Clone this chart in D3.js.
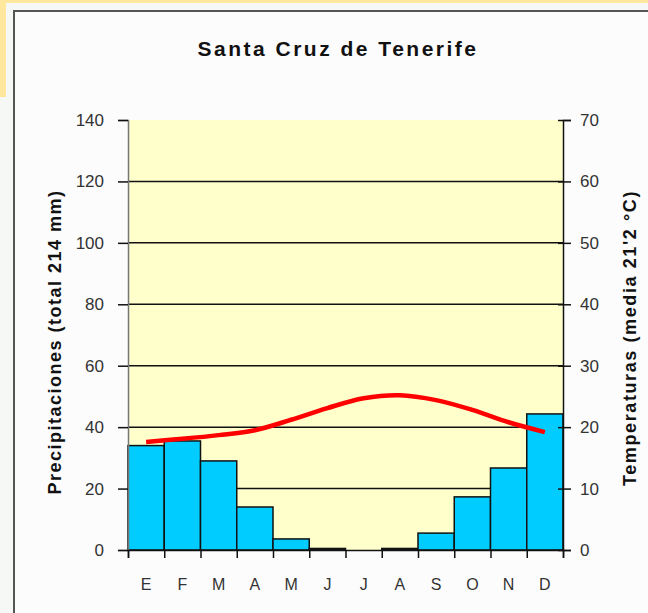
<!DOCTYPE html>
<html>
<head>
<meta charset="utf-8">
<title>Santa Cruz de Tenerife</title>
<script src="https://d3js.org/d3.v7.min.js"></script>
<style>
  body { margin: 0; background: #f6f8f6; }
  svg text { font-family: Arial, "Liberation Sans", sans-serif; }
</style>
</head>
<body>
<svg width="648" height="613"></svg>
<script>
// datos
const months = ["E", "F", "M", "A", "M", "J", "J", "A", "S", "O", "N", "D"];
const precip = [34, 35.5, 29, 14, 3.6, 0.5, 0, 0.5, 5.5, 17.3, 26.7, 44.3];
const temps = [17.6, 18.1, 18.7, 19.5, 21.2, 23.1, 24.7, 25.2, 24.4, 22.8, 20.8, 19.2];
const precipTicks = [0, 20, 40, 60, 80, 100, 120, 140];
const tempTicks = [0, 10, 20, 30, 40, 50, 60, 70];

const svg = d3.select("svg");
const plot = {left: 128, right: 563, top: 120, bottom: 550};

// marco exterior
svg.append("rect").attr("x", 0).attr("y", 0).attr("width", 648).attr("height", 3).attr("fill", "#ffe79e");
svg.append("rect").attr("x", 0).attr("y", 0).attr("width", 6).attr("height", 97).attr("fill", "#ffe79e");
svg.append("rect")
  .attr("x", 14).attr("y", 11).attr("width", 660).attr("height", 640)
  .attr("fill", "#fcfcfc").attr("stroke", "#555").attr("stroke-width", 2);

// escalas
const x = d3.scaleBand().domain(d3.range(12)).range([plot.left, plot.right]).padding(0);
const yP = d3.scaleLinear().domain([0, 140]).range([plot.bottom, plot.top]);
const yT = d3.scaleLinear().domain([0, 70]).range([plot.bottom, plot.top]);

// fondo del área
svg.append("rect")
  .attr("x", plot.left).attr("y", plot.top)
  .attr("width", plot.right - plot.left).attr("height", plot.bottom - plot.top)
  .attr("fill", "#ffffcc");

// líneas de cuadrícula
svg.append("g")
  .selectAll("line")
  .data(precipTicks.filter(d => d > 0 && d < 140))
  .join("line")
  .attr("x1", plot.left).attr("x2", plot.right)
  .attr("y1", d => yP(d)).attr("y2", d => yP(d))
  .attr("stroke", "#111").attr("stroke-width", 1.5);

// barras de precipitación
svg.append("g")
  .selectAll("rect")
  .data(precip)
  .join("rect")
  .attr("x", (d, i) => x(i))
  .attr("y", d => yP(d))
  .attr("width", x.bandwidth())
  .attr("height", d => plot.bottom - yP(d))
  .attr("fill", "#00ccff")
  .attr("stroke", "#111").attr("stroke-width", 1.5);

// línea de temperatura
const line = d3.line()
  .x((d, i) => x(i) + x.bandwidth() / 2)
  .y(d => yT(d))
  .curve(d3.curveCatmullRom);

svg.append("path")
  .datum(temps)
  .attr("d", line)
  .attr("fill", "none")
  .attr("stroke", "#ff0000")
  .attr("stroke-width", 4.5);

// ejes
const axisLeft = svg.append("g")
  .attr("transform", `translate(${plot.left},0)`)
  .call(d3.axisLeft(yP).tickValues(precipTicks).tickSize(10).tickPadding(14));

const axisRight = svg.append("g")
  .attr("transform", `translate(${plot.right},0)`)
  .call(d3.axisRight(yT).tickValues(tempTicks).tickSize(8).tickPadding(9));
axisRight.selectAll(".tick line").attr("x1", -5);

const xTicks = d3.scaleLinear().domain([0, 12]).range([plot.left, plot.right]);
const axisBottom = svg.append("g")
  .attr("transform", `translate(0,${plot.bottom})`)
  .call(d3.axisBottom(xTicks).tickValues(d3.range(13)).tickSize(8).tickFormat(""));

svg.append("g")
  .selectAll("text")
  .data(months)
  .join("text")
  .attr("x", (d, i) => x(i) + x.bandwidth() / 2)
  .attr("y", 590)
  .attr("text-anchor", "middle")
  .attr("font-size", 16)
  .attr("fill", "#333")
  .text(d => d);

[axisLeft, axisRight, axisBottom].forEach(a => {
  a.select(".domain").attr("stroke", "#111").attr("stroke-width", 1.5);
  a.selectAll(".tick line").attr("stroke", "#111").attr("stroke-width", 1.5);
  a.selectAll(".tick text").attr("font-size", 17).attr("fill", "#333")
    .attr("font-family", "Arial, 'Liberation Sans', sans-serif");
});
axisLeft.select(".domain").attr("stroke", "#777");

// títulos
svg.append("text")
  .attr("x", 338).attr("y", 56)
  .attr("text-anchor", "middle")
  .attr("font-size", 21).attr("font-weight", "bold")
  .attr("letter-spacing", 2.5)
  .attr("fill", "#111")
  .text("Santa Cruz de Tenerife");

svg.append("text")
  .attr("transform", "translate(61,342) rotate(-90)")
  .attr("text-anchor", "middle")
  .attr("font-size", 18).attr("font-weight", "bold")
  .attr("letter-spacing", 1.5)
  .attr("fill", "#111")
  .text("Precipitaciones (total 214 mm)");

svg.append("text")
  .attr("transform", "translate(636,338) rotate(-90)")
  .attr("text-anchor", "middle")
  .attr("font-size", 18).attr("font-weight", "bold")
  .attr("letter-spacing", 1.6)
  .attr("fill", "#111")
  .text("Temperaturas (media 21'2 °C)");
</script>
</body>
</html>
